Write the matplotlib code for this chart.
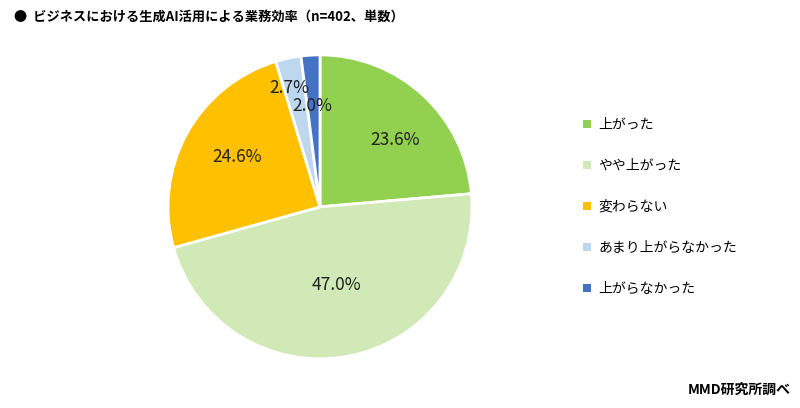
import numpy as np
import matplotlib.pyplot as plt
from matplotlib.patches import Patch

plt.rcParams['font.family'] = ['Noto Sans CJK JP', 'DejaVu Sans']

labels = ["上がった", "やや上がった", "変わらない", "あまり上がらなかった", "上がらなかった"]
values = [23.6, 47.0, 24.6, 2.7, 2.0]
colors = ["#92D050", "#D0E9B7", "#FFC000", "#BDD7EE", "#4472C4"]
# label placement: radius and angle nudge from the wedge middle
label_r = [0.66, 0.525, 0.634, 0.81, 0.667]
label_da = [-5.7, 1.9, -2.2, 2.6, 1.0]

fig = plt.figure(figsize=(8, 4.08), dpi=100)
ax = fig.add_axes([0.4 - 0.19, 0.493 - 0.3725, 0.38, 0.745])

wedges, _ = ax.pie(values, colors=colors, startangle=90, counterclock=False,
                   wedgeprops=dict(edgecolor="white", linewidth=2))
ax.set_xlim(-1.0, 1.0)
ax.set_ylim(-1.0, 1.0)
ax.set_aspect("equal")

for w, v, r, da in zip(wedges, values, label_r, label_da):
    ang = np.deg2rad((w.theta1 + w.theta2) / 2 + da)
    ax.text(r * np.cos(ang), r * np.sin(ang), f"{v:.1f}%",
            ha="center", va="center", fontsize=12.5, color="#222222")

handles = [Patch(facecolor=c, edgecolor="none") for c in colors]
fig.legend(handles, labels, loc="upper left", bbox_to_anchor=(0.713, 0.742),
           frameon=False, fontsize=10, handlelength=0.55, handleheight=0.55,
           handletextpad=0.55, labelspacing=1.95)

fig.text(0.017, 0.958, "●  ビジネスにおける生成AI活用による業務効率（n=402、単数）",
         fontsize=9.5, fontweight="bold", va="center", ha="left")
fig.text(0.988, 0.045, "MMD研究所調べ", fontsize=10, fontweight="bold",
         va="center", ha="right")

fig.savefig("out.png", dpi=100)
